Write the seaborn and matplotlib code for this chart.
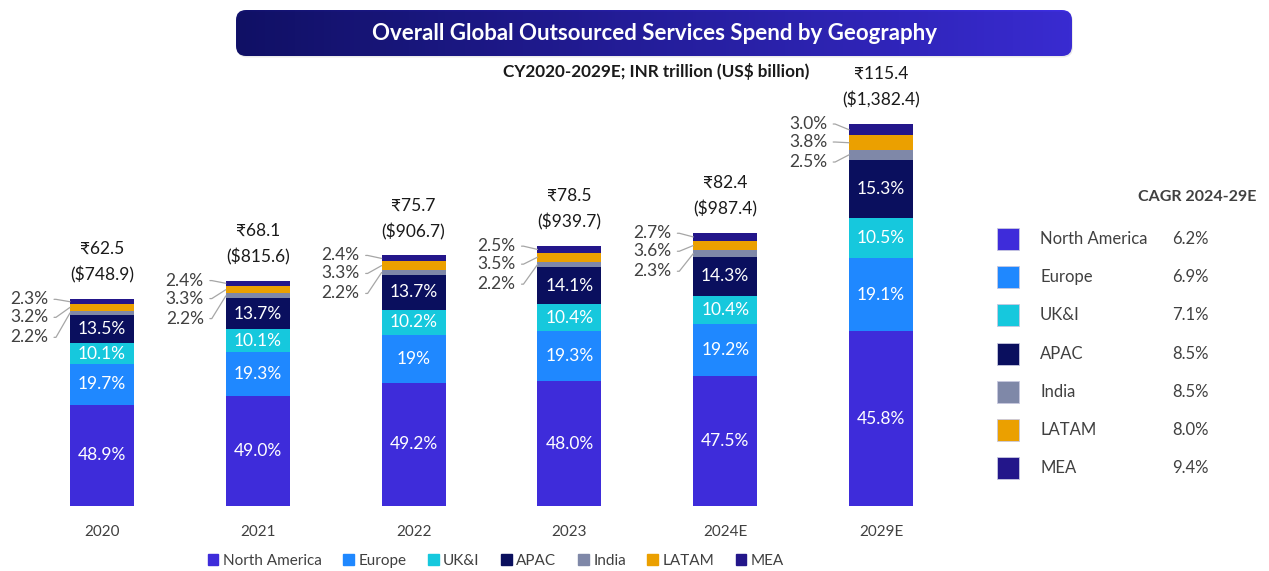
import numpy as np
import pandas as pd
import matplotlib.pyplot as plt
import matplotlib.patches as mpatches
import matplotlib.transforms as mtransforms
from matplotlib.colors import LinearSegmentedColormap
import seaborn as sns

# Chart data
years = ["2020", "2021", "2022", "2023", "2024E", "2029E"]
inr_total = [62.5, 68.1, 75.7, 78.5, 82.4, 115.4]
usd_total = ["748.9", "815.6", "906.7", "939.7", "987.4", "1,382.4"]

north_america = [48.9, 49.0, 49.2, 48.0, 47.5, 45.8]
europe = [19.7, 19.3, 19.0, 19.3, 19.2, 19.1]
uki = [10.1, 10.1, 10.2, 10.4, 10.4, 10.5]
apac = [13.5, 13.7, 13.7, 14.1, 14.3, 15.3]
india = [2.2, 2.2, 2.2, 2.2, 2.3, 2.5]
latam = [3.2, 3.3, 3.3, 3.5, 3.6, 3.8]
mea = [2.3, 2.4, 2.4, 2.5, 2.7, 3.0]

regions = ["North America", "Europe", "UK&I", "APAC", "India", "LATAM", "MEA"]
cagr = [6.2, 6.9, 7.1, 8.5, 8.5, 8.0, 9.4]
label_override = {("Europe", "2022"): "19%"}

colors = ["#3E2CDA", "#1F88FF", "#16C8DD", "#0A0F5E", "#7F88A8", "#EBA000", "#23168A"]
TXT = "#404040"

shares = pd.DataFrame(dict(zip(regions, [north_america, europe, uki, apac, india, latam, mea])),
                      index=years)
seg = shares.mul(inr_total, axis=0) / 100
cum = seg.cumsum(axis=1)

sns.set_style("white")
plt.rcParams["font.family"] = ["Lato", "DejaVu Sans"]

fig = plt.figure(figsize=(12.69, 5.71), dpi=100)
ax = fig.add_axes([24 / 1269, 1 - 506 / 571, 935 / 1269, 446 / 571])

# stacked bars: draw cumulative heights from the top layer down
for reg, col in reversed(list(zip(regions, colors))):
    sns.barplot(x=years, y=cum[reg].values, color=col, width=0.41, saturation=1,
                linewidth=0, order=years, ax=ax)

ax.set_xlim(-0.5, 5.5)
ax.set_ylim(0, 446 / 3.31)
ax.set_yticks([])
ax.set_xlabel("")
ax.set_ylabel("")
ax.tick_params(axis="x", length=0, pad=14, labelsize=11, labelcolor=TXT)
sns.despine(ax=ax, left=True, bottom=True)


def off(dx_px, dy_px):
    return ax.transData + mtransforms.ScaledTranslation(dx_px / 100, dy_px / 100, fig.dpi_scale_trans)


for i, yr in enumerate(years):
    top = cum.loc[yr, "MEA"]
    # big segment labels inside
    for reg in regions[:4]:
        v = shares.loc[yr, reg]
        txt = label_override.get((reg, yr), f"{v:.1f}%")
        ax.text(i, cum.loc[yr, reg] - seg.loc[yr, reg] / 2, txt, color="white",
                ha="center", va="center", fontsize=12.5)
    # small segments labelled on the left with leader lines
    for reg, dy in zip(["MEA", "LATAM", "India"], [0, -18, -38]):
        v = shares.loc[yr, reg]
        ax.annotate(f"{v:.1f}%", xy=(i - 0.205, cum.loc[yr, reg] - seg.loc[yr, reg] / 2),
                    xytext=(i - 0.205, top), textcoords=off(-22, dy),
                    ha="right", va="center", fontsize=12.5, color=TXT,
                    arrowprops=dict(arrowstyle="-", color="#A6A6A6", lw=0.9,
                                    shrinkA=2, shrinkB=0, relpos=(1, 0.5),
                                    connectionstyle="arc,angleA=0,armA=8,angleB=0,armB=0,rad=0"))
    # totals on top
    ax.text(i, top, f"({'$'}{usd_total[i]})", transform=off(0, 24), ha="center", va="center",
            fontsize=12.5, color="#1A1A1A")
    ax.text(i, top, f"₹{inr_total[i]:.1f}", transform=off(0, 50), ha="center", va="center",
            fontsize=12.5, color="#1A1A1A")

# title banner with gradient
shadow = mpatches.FancyBboxPatch((2.37, 5.71 - 0.575), 8.36, 0.46,
                                 boxstyle="round,pad=0,rounding_size=0.1",
                                 transform=fig.dpi_scale_trans, facecolor="#000000",
                                 alpha=0.08, edgecolor="none")
fig.add_artist(shadow)
tax = fig.add_axes([236 / 1269, 1 - 56 / 571, 836 / 1269, 46 / 571])
tax.axis("off")
cmap = LinearSegmentedColormap.from_list("banner", ["#12126E", "#3E2FE3"])
im = tax.imshow(np.linspace(0, 1, 256).reshape(1, -1), aspect="auto", cmap=cmap,
                extent=[0, 1, 0, 1])
box = mpatches.FancyBboxPatch((2.36, 5.71 - 0.56), 8.36, 0.46,
                              boxstyle="round,pad=0,rounding_size=0.1",
                              transform=fig.dpi_scale_trans, facecolor="none", edgecolor="none")
im.set_clip_path(box)
fig.text(654 / 1269, 1 - 34 / 571, "Overall Global Outsourced Services Spend by Geography",
         color="white", fontweight="bold", fontsize=16, ha="center", va="center")
fig.text(656 / 1269, 1 - 71 / 571, "CY2020-2029E; INR trillion (US$ billion)",
         color="#1A1A1A", fontweight="bold", fontsize=12.3, ha="center", va="center")

# CAGR table on the right
fig.text(1197 / 1269, 1 - 197 / 571, "CAGR 2024-29E", color=TXT, fontweight="bold",
         fontsize=11.5, ha="center", va="center")
for k, (reg, col, c) in enumerate(zip(regions, colors, cagr)):
    yc = 239 + k * 38.2
    fig.add_artist(mpatches.Rectangle((997 / 1269, 1 - (yc + 11) / 571), 22 / 1269, 22 / 571,
                                      transform=fig.transFigure, facecolor=col,
                                      edgecolor="#C8C8E0", lw=0.6))
    fig.text(1040 / 1269, 1 - yc / 571, reg, color=TXT, fontsize=12, ha="left", va="center")
    fig.text(1172 / 1269, 1 - yc / 571, f"{c:.1f}%", color=TXT, fontsize=12, ha="left", va="center")

# bottom legend
handles = [mpatches.Patch(color=c) for c in colors]
leg = fig.legend(handles, regions, loc="center", bbox_to_anchor=(496 / 1269, 1 - 561 / 571),
                 ncol=7, frameon=False, fontsize=11, handlelength=0.7, handleheight=0.7,
                 handletextpad=0.3, columnspacing=1.4)
for t in leg.get_texts():
    t.set_color(TXT)

fig.savefig("out.png", dpi=100)
